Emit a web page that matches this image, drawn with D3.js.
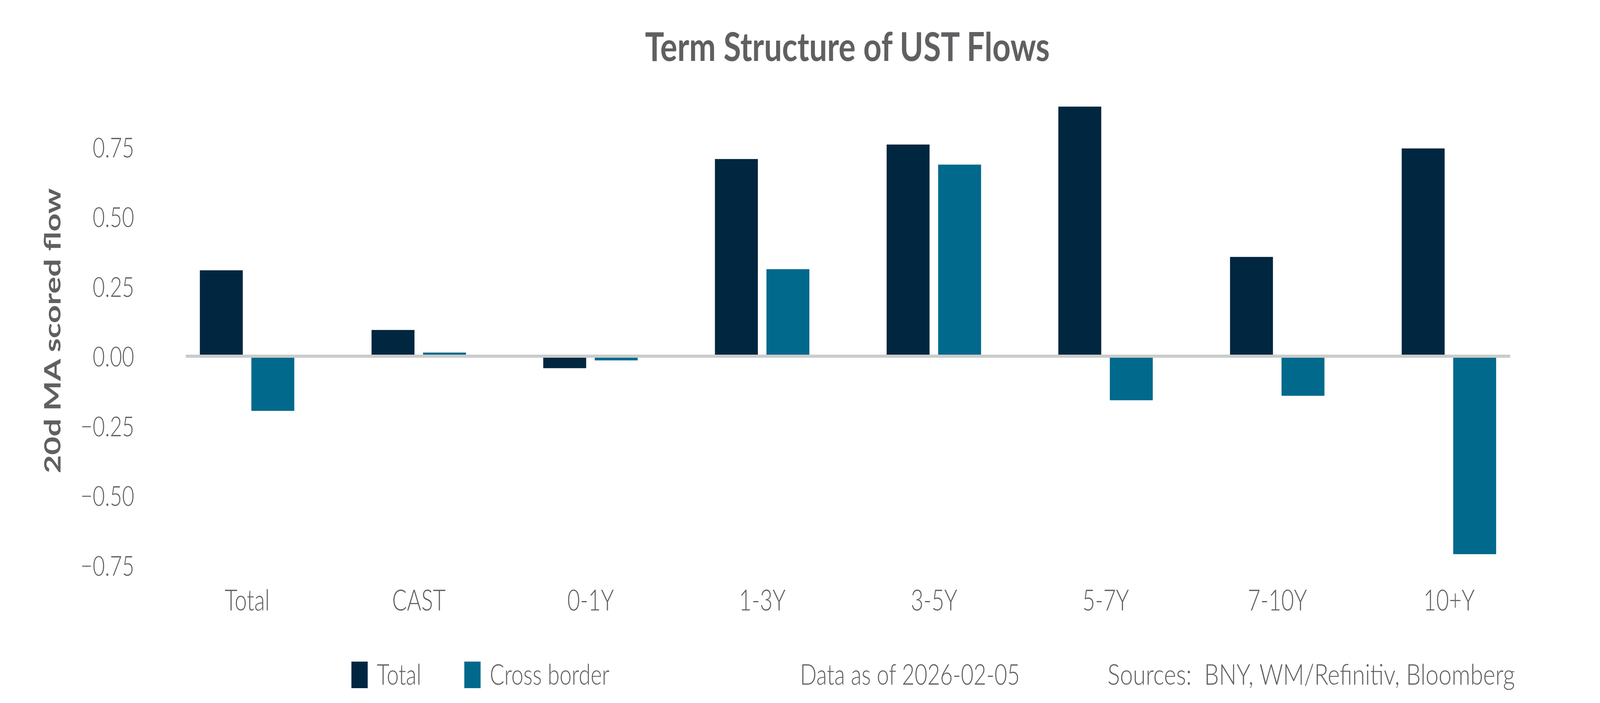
<!DOCTYPE html>
<html>
<head>
<meta charset="utf-8">
<script src="https://cdn.jsdelivr.net/npm/d3@7"></script>
<style>
  html, body { margin: 0; padding: 0; background: #ffffff; overflow: hidden; width: 100%; height: 100%; }
  svg { display: block; width: 100vw; height: 100vh; }
</style>
</head>
<body>
<script>
// ---- Data ----
const categories = ["Total", "CAST", "0-1Y", "1-3Y", "3-5Y", "5-7Y", "7-10Y", "10+Y"];
const totalFlow = [0.308, 0.094, -0.043, 0.707, 0.759, 0.895, 0.356, 0.745];
const crossBorderFlow = [-0.196, 0.013, -0.015, 0.312, 0.687, -0.158, -0.142, -0.710];
const yTicks = [-0.75, -0.5, -0.25, 0, 0.25, 0.5, 0.75];
const seriesNames = ["Total", "Cross border"];
const titleText = "Term Structure of UST Flows";
const yLabelText = "20d MA scored flow";
const asOfText = "Data as of 2026-02-05";
const sourceText = "Sources:  BNY, WM/Refinitiv, Bloomberg";

// ---- Layout ----
const W = 5400, H = 1800;
const colors = ["#012640", "#00698c"];
const textGray = "#5f6062";
const lightFont = "Lato, 'Open Sans', sans-serif";

const svg = d3.select("body").append("svg")
  .attr("viewBox", `0 0 ${W} ${H}`)
  .attr("preserveAspectRatio", "none");

const x = d3.scalePoint().domain(categories).range([627, 5097]).padding(0.357);
const y = d3.scaleLinear().domain([-0.75, 0.75]).range([1447.5, 376.5]);
const step = x.step();
const bw = 0.25 * step;

const rows = categories.map((c, i) => ({ cat: c, vals: [totalFlow[i], crossBorderFlow[i]] }));
const offsets = [-0.275 * step, 0.025 * step];

// Bars
const gBars = svg.append("g");
rows.forEach(r => {
  r.vals.forEach((v, s) => {
    gBars.append("rect")
      .attr("x", x(r.cat) + offsets[s])
      .attr("width", bw)
      .attr("y", Math.min(y(v), y(0)))
      .attr("height", Math.abs(y(v) - y(0)))
      .attr("fill", colors[s]);
  });
});

// Zero line
svg.append("line")
  .attr("x1", 627).attr("x2", 5097)
  .attr("y1", y(0)).attr("y2", y(0))
  .attr("stroke", "#cacccb").attr("stroke-width", 8);

// Y axis
const yAxis = d3.axisLeft(y).tickValues(yTicks).tickSize(0).tickPadding(0)
  .tickFormat(d3.format(".2f"));
const gy = svg.append("g").attr("transform", "translate(453,0)").call(yAxis);
gy.select(".domain").remove();
gy.selectAll("text")
  .attr("font-family", lightFont).attr("font-weight", 300)
  .attr("font-size", 71).attr("fill", textGray).attr("dy", "0.36em");

// X axis
const xAxis = d3.axisBottom(x).tickSize(0).tickPadding(0);
const gx = svg.append("g").attr("transform", "translate(0,1563)").call(xAxis);
gx.select(".domain").remove();
gx.selectAll("text")
  .attr("y", 0).attr("dy", 0)
  .attr("font-family", lightFont).attr("font-weight", 300)
  .attr("font-size", 74).attr("fill", textGray);

// Y label
svg.append("text")
  .attr("transform", "translate(205,847) rotate(-90)")
  .attr("text-anchor", "middle")
  .attr("font-family", "Lato, sans-serif").attr("font-weight", 700)
  .attr("font-size", 76).attr("fill", textGray)
  .attr("textLength", 730).attr("lengthAdjust", "spacingAndGlyphs")
  .text(yLabelText);

// Title
svg.append("text")
  .attr("x", 2860).attr("y", 156)
  .attr("text-anchor", "middle")
  .attr("font-family", "Lato, sans-serif").attr("font-weight", 700)
  .attr("font-size", 101).attr("fill", textGray)
  .attr("textLength", 1366).attr("lengthAdjust", "spacingAndGlyphs")
  .text(titleText);

// Legend
const legendX = [1186, 1567];
seriesNames.forEach((n, i) => {
  svg.append("rect")
    .attr("x", legendX[i]).attr("y", 1694)
    .attr("width", 55).attr("height", 68)
    .attr("fill", colors[i]);
  svg.append("text")
    .attr("x", legendX[i] + 86).attr("y", 1753)
    .attr("font-family", lightFont).attr("font-weight", 300)
    .attr("font-size", 73).attr("fill", textGray)
    .text(n);
});

// Footer notes
svg.append("text")
  .attr("x", 2700).attr("y", 1753)
  .attr("font-family", lightFont).attr("font-weight", 300)
  .attr("font-size", 73).attr("fill", textGray)
  .attr("textLength", 742).attr("lengthAdjust", "spacingAndGlyphs")
  .text(asOfText);
svg.append("text")
  .attr("x", 3738).attr("y", 1753)
  .attr("font-family", lightFont).attr("font-weight", 300)
  .attr("font-size", 73).attr("fill", textGray)
  .attr("textLength", 1375).attr("lengthAdjust", "spacingAndGlyphs")
  .style("white-space", "pre")
  .text(sourceText);
</script>
</body>
</html>
